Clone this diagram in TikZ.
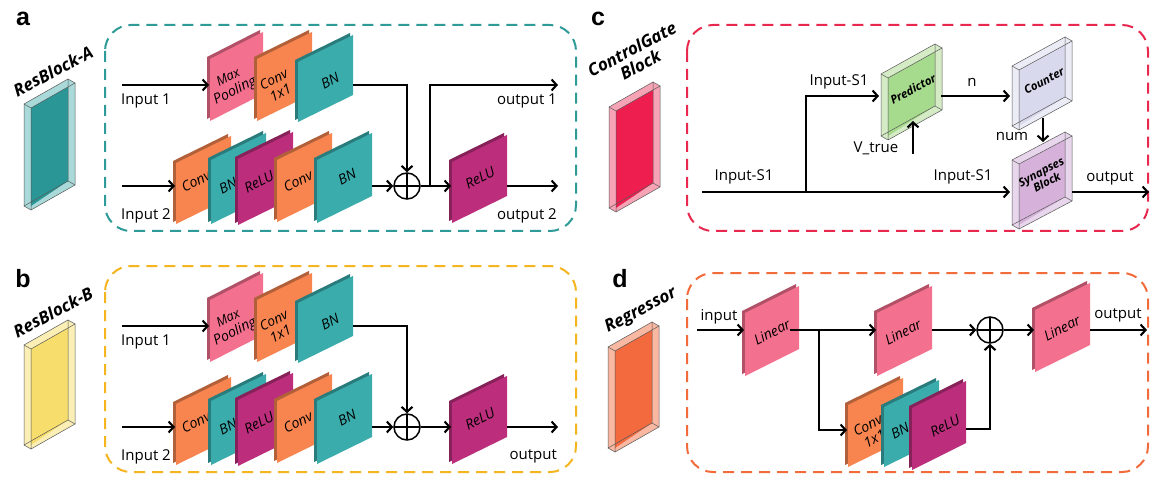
\documentclass[tikz,border=0pt]{standalone}
\usepackage{fontspec}
\setmainfont{Open Sans}
\newfontfamily\lblfont{Liberation Sans}
\usetikzlibrary{arrows.meta}
\definecolor{cpink}{HTML}{F4708F}
\definecolor{corange}{HTML}{F8854F}
\definecolor{cteal}{HTML}{3AACAC}
\definecolor{cmag}{HTML}{BC2E7C}
\definecolor{boxA}{HTML}{2E9B98}
\definecolor{boxB}{HTML}{F5B51E}
\definecolor{boxC}{HTML}{E8284F}
\definecolor{boxD}{HTML}{F26B3A}
\definecolor{icAin}{HTML}{2A9696}
\definecolor{icAout}{HTML}{A9D9D8}
\definecolor{icBin}{HTML}{F6DD6C}
\definecolor{icBout}{HTML}{FBEFB5}
\definecolor{icCin}{HTML}{EE1F4F}
\definecolor{icCout}{HTML}{F6A3B5}
\definecolor{icDin}{HTML}{F26A3E}
\definecolor{icDout}{HTML}{F8B8A2}
\definecolor{predIn}{HTML}{A6DA8C}
\definecolor{predOut}{HTML}{D4EBC6}
\definecolor{cntIn}{HTML}{D9D9EE}
\definecolor{cntOut}{HTML}{ECECF6}
\definecolor{synIn}{HTML}{D6B2DA}
\definecolor{synOut}{HTML}{E8D6EC}
% slanted panel: name, x, y (top-left), w, h, colour, text position, text
\newcommand\pnl[8]{%
  \fill[#6!72!black] (#2-3,#3-2) -- (#2+#4-3,#3-27-2) -- (#2+#4-3,#3-27+#5-2) -- (#2-3,#3+#5-2) -- cycle;
  \fill[#6] (#2,#3) -- (#2+#4,#3-27) -- (#2+#4,#3-27+#5) -- (#2,#3+#5) -- cycle;
  \node[ptext] (#1) at (#7) {#8};
}
% translucent box: x, y, w, h, slant, inner colour, outer colour
\newcommand\tbox[7]{%
  \fill[#7] (#1,#2) -- (#1+#3,#2-#5) -- (#1+#3+7,#2-#5+4) -- (#1+#3+7,#2-#5+#4+4) -- (#1+7,#2+#4+4) -- (#1,#2+#4) -- cycle;
  \fill[#6] (#1+7,#2+4) -- (#1+#3,#2-#5+8) -- (#1+#3,#2-#5+#4) -- (#1+7,#2+#4) -- cycle;
  \draw[boxedge] (#1,#2) -- (#1+#3,#2-#5) -- (#1+#3,#2-#5+#4) -- (#1,#2+#4) -- cycle;
  \draw[boxedge] (#1+7,#2+4) -- (#1+#3+7,#2-#5+4) -- (#1+#3+7,#2-#5+#4+4) -- (#1+7,#2+#4+4) -- cycle;
  \draw[boxedge] (#1,#2) -- (#1+7,#2+4) (#1+#3,#2-#5) -- (#1+#3+7,#2-#5+4)
     (#1+#3,#2-#5+#4) -- (#1+#3+7,#2-#5+#4+4) (#1,#2+#4) -- (#1+7,#2+#4+4);
}
% common body of ResBlock-A / ResBlock-B
\newcommand\resbody[1]{%
  \pnl{#1-mp}{210}{59}{53}{62}{cpink}{232,85}{\fontsize{13}{14.5}\selectfont Max\\Pooling}
  \pnl{#1-c1}{257}{59}{55}{62}{corange}{277,86}{\fontsize{13.5}{15}\selectfont Conv\\1x1}
  \pnl{#1-bn1}{298}{62}{55}{60}{cteal}{330,81}{BN}
  \pnl{#1-cv1}{176}{163}{55}{61}{corange}{196,181}{Conv}
  \pnl{#1-bn2}{211}{160}{55}{64}{cteal}{228,186}{BN}
  \pnl{#1-re1}{238}{159}{55}{66}{cmag}{259,182}{ReLU}
  \pnl{#1-cv2}{277}{160}{55}{62}{corange}{298,181}{Conv}
  \pnl{#1-bn3}{317}{160}{55}{63}{cteal}{347,177}{BN}
  \pnl{#1-re2}{452}{162}{55}{61}{cmag}{480,178}{ReLU}
  \node[oplus] (#1-sum) at (407,186) {};
  \coordinate (#1-in1) at (122,85);
  \coordinate (#1-mpw) at (209,85);
  \coordinate (#1-bn1e) at (353,85);
  \coordinate (#1-j1) at (407,85);
  \coordinate (#1-in2) at (122,186);
  \coordinate (#1-cv1w) at (175,186);
  \coordinate (#1-bn3e) at (372,186);
  \coordinate (#1-re2w) at (451,186);
  \coordinate (#1-re2e) at (507,186);
  \coordinate (#1-out2) at (558,186);
  \draw[conn] (#1-in1) -- (#1-mpw);
  \draw[conn] (#1-bn1e) -- (#1-j1) -- (#1-sum.north);
  \draw[conn] (#1-in2) -- (#1-cv1w);
  \draw[conn] (#1-bn3e) -- (#1-sum.west);
  \draw[conn] (#1-sum.east) -- (#1-re2w);
  \draw[conn] (#1-re2e) -- (#1-out2);
  \node[lab,anchor=west] (#1-in1l) at (121,101) {Input 1};
  \node[lab,anchor=west] (#1-in2l) at (121,216) {Input 2};
}
\begin{document}
\begin{tikzpicture}[x=1pt,y=-1pt,
  conn/.style={line width=2.1pt,-{Straight Barb[length=5pt,width=11pt]}},
  ptext/.style={font=\fontsize{14}{15}\selectfont\itshape,rotate=27,align=center,inner sep=0pt},
  btext/.style={font=\fontsize{11.5}{12}\selectfont\bfseries\itshape,rotate=28,align=center,inner sep=0pt},
  lab/.style={font=\fontsize{15}{16}\selectfont,inner sep=0pt},
  plab/.style={font=\lblfont\bfseries\fontsize{25}{25}\selectfont,inner sep=0pt},
  ilab/.style={font=\fontsize{17}{18}\selectfont\bfseries\itshape,rotate=28,align=center,inner sep=0pt},
  dbox/.style={line width=2pt,dash pattern=on 11pt off 7pt,rounded corners=26pt},
  boxedge/.style={line width=0.5pt,draw=black!65},
  oplus/.style={circle,draw,line width=1.5pt,minimum size=26pt,inner sep=0pt,
    path picture={\draw[line width=1.5pt] (path picture bounding box.north) -- (path picture bounding box.south)
      (path picture bounding box.west) -- (path picture bounding box.east);}}]
\useasboundingbox (0,0) rectangle (1154,481);
\fill[white] (0,0) rectangle (1154,481);

% ---------- panel a ----------
\node[plab] (la) at (23,19) {a};
\tbox{24}{104}{44}{102}{25}{icAin}{icAout}
\node[ilab] (a-ttl) at (53,71) {ResBlock-A};
\draw[dbox,boxA] (105,25) rectangle (576,231);
\resbody{a}
\coordinate (a-br) at (430,186);
\coordinate (a-brt) at (430,85);
\coordinate (a-out1) at (558,85);
\draw[conn] (a-br) -- (a-brt) -- (a-out1);
\node[lab,anchor=east] (a-o1l) at (557,101) {output 1};
\node[lab,anchor=east] (a-o2l) at (557,216) {output 2};

% ---------- panel b ----------
\node[plab] (lb) at (23,279) {b};
\tbox{24}{345}{44}{100}{25}{icBin}{icBout}
\node[ilab] (b-ttl) at (53,312) {ResBlock-B};
\draw[dbox,boxB] (105,266) rectangle (576,472);
\begin{scope}[shift={(0,241)}]
\resbody{b}
\node[lab,anchor=east] (b-ol) at (557,215) {output};
\end{scope}

% ---------- panel c ----------
\node[plab] (lc) at (598,19) {c};
\tbox{609}{107}{44}{101}{25}{icCin}{icCout}
\node[ilab] (c-ttl) at (636,57) {ControlGate\\Block};
\draw[dbox,boxC] (687,25) rectangle (1148,231);
\tbox{881}{74}{54}{62}{30}{predIn}{predOut}
\node[btext] (pred) at (913,89) {Predictor};
\tbox{1012}{66}{53}{60}{29}{cntIn}{cntOut}
\node[btext] (cnt) at (1044,81) {Counter};
\tbox{1012}{160}{53}{65}{28}{synIn}{synOut}
\node[btext] (syn) at (1044,177) {Synapses\\Block};
\coordinate (c-in) at (702,192);
\coordinate (c-br) at (806,192);
\coordinate (c-brt) at (806,96);
\coordinate (c-predw) at (879,96);
\coordinate (c-prede) at (941,96);
\coordinate (c-cntw) at (1010,96);
\coordinate (c-synw) at (1010,192);
\coordinate (c-vt) at (913,154);
\coordinate (c-predb) at (913,121);
\coordinate (c-cntb) at (1043,118);
\coordinate (c-synt) at (1043,142);
\coordinate (c-syne) at (1072,192);
\coordinate (c-out) at (1149,192);
\draw[conn] (c-in) -- (c-synw);
\draw[conn] (c-br) -- (c-brt) -- (c-predw);
\draw[conn] (c-prede) -- (c-cntw);
\draw[conn] (c-vt) -- (c-predb);
\draw[conn] (c-cntb) -- (c-synt);
\draw[conn] (c-syne) -- (c-out);
\node[lab] (c-l1) at (744,177) {Input-S1};
\node[lab] (c-l2) at (839,82) {Input-S1};
\node[lab] (c-l3) at (963,177) {Input-S1};
\node[lab] (c-n) at (972,82) {n};
\node[lab] (c-vl) at (876,148) {V\_true};
\node[lab] (c-num) at (1012,136) {num};
\node[lab] (c-ol) at (1110,178) {output};

% ---------- panel d ----------
\node[plab] (ld) at (620,279) {d};
\tbox{608}{347}{44}{101}{25}{icDin}{icDout}
\node[ilab] (d-ttl) at (641,311) {Regressor};
\draw[dbox,boxD] (687,273) rectangle (1148,472);
\pnl{d-l1}{745}{313}{54}{63}{cpink}{772,332}{Linear}
\pnl{d-l2}{877}{313}{55}{63}{cpink}{903,332}{Linear}
\pnl{d-l3}{1035}{310}{55}{62}{cpink}{1062,328}{Linear}
\pnl{d-cv}{848}{405}{55}{62}{corange}{871,432}{Conv\\1x1}
\pnl{d-bn}{884}{407}{55}{60}{cteal}{900,431}{BN}
\pnl{d-re}{912}{408}{54}{62}{cmag}{945,426}{ReLU}
\node[oplus] (d-sum) at (990,330) {};
\coordinate (d-in) at (697,330);
\coordinate (d-l1w) at (744,330);
\coordinate (d-l1e) at (790,330);
\coordinate (d-br) at (819,330);
\coordinate (d-brb) at (819,430);
\coordinate (d-cvw) at (847,430);
\coordinate (d-l2w) at (876,330);
\coordinate (d-l2e) at (932,330);
\coordinate (d-ree) at (966,429);
\coordinate (d-rej) at (990,429);
\coordinate (d-l3w) at (1034,330);
\coordinate (d-l3e) at (1090,330);
\coordinate (d-out) at (1147,330);
\draw[conn] (d-in) -- (d-l1w);
\draw[conn] (d-l1e) -- (d-l2w);
\draw[conn] (d-br) -- (d-brb) -- (d-cvw);
\draw[conn] (d-l2e) -- (d-sum.west);
\draw[conn] (d-ree) -- (d-rej) -- (d-sum.south);
\draw[conn] (d-sum.east) -- (d-l3w);
\draw[conn] (d-l3e) -- (d-out);
\node[lab] (d-inl) at (719,317) {input};
\node[lab] (d-ol) at (1118,315) {output};
\end{tikzpicture}
\end{document}
